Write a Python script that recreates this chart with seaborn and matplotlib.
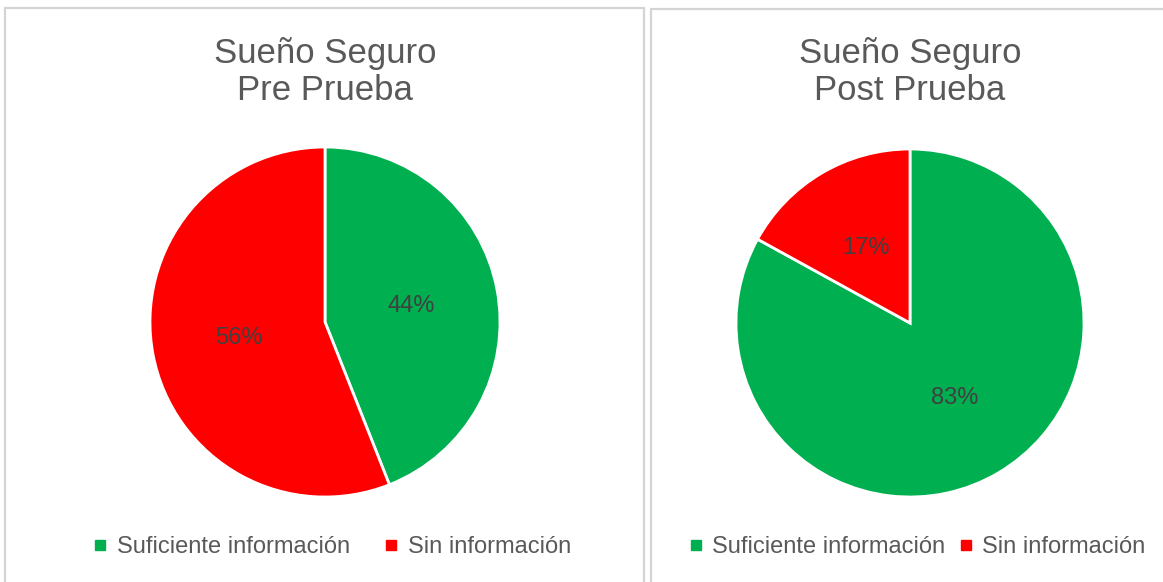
import matplotlib
matplotlib.use("Agg")
import matplotlib.pyplot as plt
from matplotlib.patches import Rectangle
from matplotlib.lines import Line2D
import seaborn as sns

# datos
categorias = ["Suficiente información", "Sin información"]
pre_prueba = [44, 56]
post_prueba = [83, 17]
titulos = ["Sueño Seguro\nPre Prueba", "Sueño Seguro\nPost Prueba"]
colores = ["#00B050", "#FF0000"]

sns.set_theme(style="white")
plt.rcParams["font.family"] = ["Liberation Sans", "DejaVu Sans"]

W, H = 1163, 582
fig = plt.figure(figsize=(W / 100, H / 100), dpi=100)
fig.patch.set_facecolor("white")

gris = "#595959"

# marcos de cada panel
for x0, x1, y0 in [(5, 644, 8), (651, 1170, 9)]:
    fig.patches.append(Rectangle((x0 / W, -0.02), (x1 - x0) / W, 1 - y0 / H + 0.02,
                                 transform=fig.transFigure, fill=False,
                                 edgecolor="#d4d4d4", linewidth=1.6))

paneles = [(325, 322, 175, pre_prueba), (910, 323, 174, post_prueba)]

for i, (cx, cy, r, valores) in enumerate(paneles):
    ax = fig.add_axes([(cx - r) / W, (H - cy - r) / H, 2 * r / W, 2 * r / H])
    ax.pie(valores, colors=colores, startangle=90, counterclock=False,
           autopct="%1.0f%%", pctdistance=0.5,
           wedgeprops=dict(edgecolor="white", linewidth=2),
           textprops=dict(color="#404040", fontsize=17))
    ax.set_xlim(-1, 1)
    ax.set_ylim(-1, 1)
    ax.set_aspect("equal")
    ax.axis("off")

    fig.text(cx / W, (H - 72) / H, titulos[i], ha="center", va="center",
             fontsize=25, color=gris, linespacing=1.12)

    handles = [Line2D([0], [0], marker="s", linestyle="none", markersize=7,
                      markerfacecolor=c, markeredgecolor=c) for c in colores]
    fig.legend(handles, categorias, loc="center", ncol=2,
               bbox_to_anchor=(cx / W + 0.005, (H - 547) / H), frameon=False,
               fontsize=17, labelcolor=gris, handletextpad=0.3,
               columnspacing=1.35 if i == 0 else 0.45, handlelength=0.8)

fig.savefig("out.png", dpi=100, facecolor="white")
